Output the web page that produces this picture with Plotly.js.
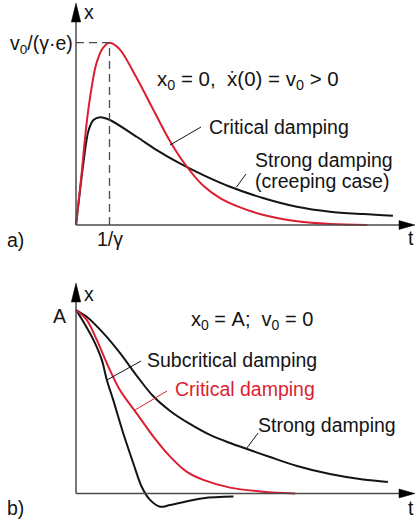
<!DOCTYPE html>
<html>
<head>
<meta charset="utf-8">
<script src="https://cdn.plot.ly/plotly-3.0.1.min.js"></script>
<style>html,body{margin:0;padding:0;background:#fff;}#chart{width:416px;height:521px;}</style>
</head>
<body>
<div id="chart"></div>
<script>
// ---- Data ----
// Panel a): x0 = 0, v0 > 0   (t in units of 1/gamma, x in units of v0/(gamma*e))
const tCritA = [0, 0.15, 0.30, 0.42, 0.60, 0.80, 1.00, 1.30, 1.80, 2.30, 2.80, 3.20, 3.80, 4.30, 4.90, 5.60, 6.60, 7.60, 8.70];
const xCritA = [0, 0.25, 0.53, 0.70, 0.88, 0.97, 1.00, 0.965, 0.810, 0.635, 0.462, 0.347, 0.215, 0.148, 0.097, 0.055, 0.020, 0.005, 0.0];
const tStrA  = [0, 0.12, 0.22, 0.37, 0.52, 0.72, 1.01, 1.81, 2.41, 3.10, 3.80, 4.60, 5.58, 6.59, 7.58, 8.57, 9.46];
const xStrA  = [0, 0.19, 0.34, 0.516, 0.576, 0.591, 0.576, 0.484, 0.411, 0.338, 0.274, 0.210, 0.148, 0.100, 0.073, 0.060, 0.051];
// Panel b): x0 = A, v0 = 0   (x in units of A)
const tStrB  = [0, 0.33, 0.81, 1.31, 1.82, 2.30, 2.81, 3.40, 4.00, 4.60, 5.19, 5.79, 6.60, 7.58, 8.57, 9.31];
const xStrB  = [1, 0.962, 0.875, 0.766, 0.640, 0.531, 0.450, 0.379, 0.319, 0.275, 0.237, 0.199, 0.150, 0.106, 0.076, 0.063];
const tCritB = [0, 0.32, 0.62, 0.92, 1.31, 1.81, 2.31, 2.81, 3.30, 3.80, 4.60, 5.58, 6.54];
const xCritB = [1, 0.946, 0.837, 0.710, 0.564, 0.437, 0.310, 0.201, 0.119, 0.074, 0.032, 0.010, 0.0];
const tSubB  = [0, 0.22, 0.52, 0.77, 0.92, 1.11, 1.41, 1.71, 1.96, 2.21, 2.51, 2.81, 3.80, 4.70];
const xSubB  = [1, 0.936, 0.837, 0.728, 0.619, 0.510, 0.328, 0.165, 0.037, -0.035, -0.072, -0.063, -0.026, -0.017];

// ---- Geometry ----
const W = 416, H = 521;
const RED = '#dc1e32', BLK = '#141414', AX = '#4a4a4a';
const FONT = 'Liberation Sans, Arial, Helvetica, sans-serif';
const FS = 19.5;
const px = x => x / W, py = y => 1 - y / H;

function curve(t, v, color, xa, ya) {
  return {x: t, y: v, xaxis: xa, yaxis: ya, type: 'scatter', mode: 'lines',
          line: {color: color, width: 2, shape: 'spline', smoothing: 0.9}, hoverinfo: 'skip'};
}
const traces = [
  curve(tStrA, xStrA, BLK, 'x', 'y'),
  curve(tCritA, xCritA, RED, 'x', 'y'),
  curve(tStrB, xStrB, BLK, 'x2', 'y2'),
  curve(tSubB, xSubB, BLK, 'x2', 'y2'),
  curve(tCritB, xCritB, RED, 'x2', 'y2')
];

function L(x0, y0, x1, y1, color, width, dash) {
  return {type: 'line', xref: 'paper', yref: 'paper', x0: px(x0), y0: py(y0), x1: px(x1), y1: py(y1),
          line: {color: color, width: width, dash: dash || 'solid'}};
}
function tri(pts, color) {
  const d = 'M ' + pts.map(p => px(p[0]) + ',' + py(p[1])).join(' L ') + ' Z';
  return {type: 'path', xref: 'paper', yref: 'paper', path: d, fillcolor: color, line: {color: color, width: 0.5}};
}
// peak of the critical curve in panel a)
let iPk = 0; xCritA.forEach((v, i) => { if (v > xCritA[iPk]) iPk = i; });

const shapes = [
  // panel a) axes
  L(76, 225, 76, 14, AX, 1.5), L(76, 225, 402, 225, AX, 1.5),
  tri([[76, 3], [71.3, 22], [80.7, 22]], '#000'),
  tri([[415, 225], [399, 220.6], [399, 229.4]], '#000'),
  // dashed peak markers (data coords)
  {type: 'line', xref: 'x', yref: 'y', x0: tCritA[iPk], x1: tCritA[iPk], y0: 0, y1: xCritA[iPk], line: {color: AX, width: 1.3, dash: '8px,5px'}},
  {type: 'line', xref: 'x', yref: 'y', x0: 0, x1: tCritA[iPk], y0: xCritA[iPk], y1: xCritA[iPk], line: {color: AX, width: 1.3, dash: '8px,5px'}},
  // leaders a)
  L(170, 145, 201, 127, BLK, 1),
  L(236.5, 187, 246, 174, BLK, 1),
  // panel b) axes
  L(76, 493.5, 76, 296, AX, 1.5), L(76, 493.5, 402, 493.5, AX, 1.5),
  tri([[76, 283], [71.3, 302], [80.7, 302]], '#000'),
  tri([[415, 493.5], [399, 489.1], [399, 497.9]], '#000'),
  // leaders b)
  L(107, 380, 141, 361, BLK, 1),
  L(135, 410, 167, 391, RED, 1),
  L(246.5, 448.5, 258, 433, BLK, 1)
];

function lab(text, x, y, anchor, color, size) {
  return {xref: 'paper', yref: 'paper', x: px(x), y: py(y), xanchor: anchor || 'left', yanchor: 'middle',
          text: text, showarrow: false, font: {family: FONT, size: size || FS, color: color || BLK}};
}
const NB = '\u00a0';
const annotations = [
  lab('x', 82, 12), lab('t', 406, 238),
  lab('v<sub>0</sub>/(γ·e)', 75, 44, 'right'),
  lab('1/γ', 110, 239, 'center'),
  lab('a)', 5, 240),
  lab('x<sub>0</sub>' + NB + '=' + NB + '0,' + NB + NB + 'ẋ(0)' + NB + '=' + NB + 'v<sub>0</sub>' + NB + '>' + NB + '0', 155, 80, 'left', BLK, 20.5),
  lab('Critical damping', 207, 127),
  lab('Strong damping', 253, 160),
  lab('(creeping case)', 253, 181),
  lab('x', 82, 294), lab('t', 406, 508),
  lab('A', 60, 316, 'center'),
  lab('b)', 5, 508),
  lab('x<sub>0</sub>' + NB + '=' + NB + 'A;' + NB + NB + 'v<sub>0</sub>' + NB + '=' + NB + '0', 189, 320, 'left', BLK, 20),
  lab('Subcritical damping', 145, 360),
  lab('Critical damping', 173, 389, 'left', RED),
  lab('Strong damping', 256, 425)
];

const xr = [-76 / 33.5, 340 / 33.5];
const layout = {
  width: W, height: H, margin: {l: 0, r: 0, t: 0, b: 0},
  paper_bgcolor: '#fff', plot_bgcolor: 'rgba(0,0,0,0)', showlegend: false,
  xaxis: {domain: [0, 1], range: xr, visible: false, fixedrange: true, anchor: 'y'},
  yaxis: {domain: [1 - 255 / H, 1], range: [(225 - 255) / 182.3, 225 / 182.3], visible: false, fixedrange: true, anchor: 'x'},
  xaxis2: {domain: [0, 1], range: xr, visible: false, fixedrange: true, anchor: 'y2'},
  yaxis2: {domain: [0, 1 - 255 / H], range: [(493.5 - 521) / 183.5, (493.5 - 255) / 183.5], visible: false, fixedrange: true, anchor: 'x2'},
  shapes: shapes, annotations: annotations
};
Plotly.newPlot('chart', traces, layout, {staticPlot: true, displayModeBar: false});
</script>
</body>
</html>
